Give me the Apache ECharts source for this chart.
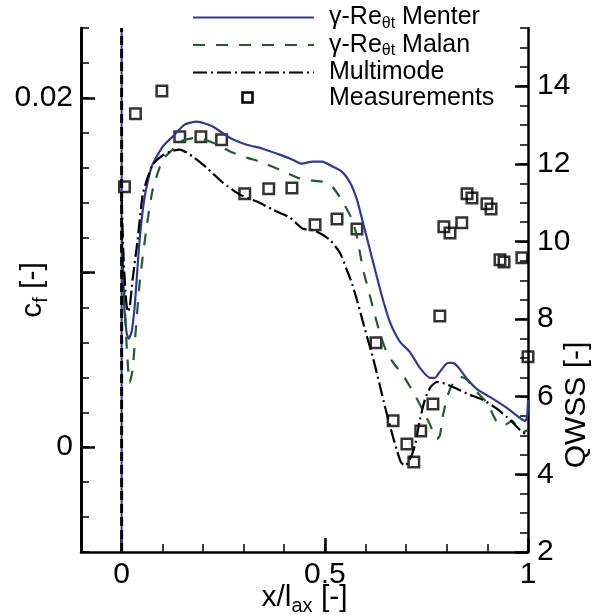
<!DOCTYPE html>
<html><head><meta charset="utf-8">
<script src="https://cdn.jsdelivr.net/npm/echarts@6/dist/echarts.min.js"></script>
<style>html,body{margin:0;padding:0;background:#fff}#c{width:605px;height:615px}</style>
</head><body><div id="c"></div><script>
const F = "'Liberation Sans', Arial, Helvetica, sans-serif";

// tick labels
const xTickLabels = [0, 0.5, 1];
const cfTickLabels = [0, 0.02];
const cfMajorTicks = [0, 0.01, 0.02];
const qwssTickLabels = [2, 4, 6, 8, 10, 12, 14];

// gamma-Re_theta_t Menter (cf)
const menterX = [0, 0.005, 0.0074, 0.0123, 0.0172, 0.0246, 0.032, 0.0443, 0.0567, 0.0739, 0.101, 0.1256, 0.155, 0.185, 0.224, 0.266, 0.308, 0.347, 0.389, 0.421, 0.443, 0.470, 0.493, 0.520, 0.542, 0.562, 0.579, 0.594, 0.611, 0.628, 0.643, 0.660, 0.685, 0.709, 0.734, 0.759, 0.771, 0.783, 0.803, 0.815, 0.830, 0.850, 0.877, 0.906, 0.948, 0.980, 0.993, 0.998, 1.0];
const menterCf = [0.01245, 0.00901, 0.00770, 0.00655, 0.00621, 0.00661, 0.00804, 0.01188, 0.01434, 0.01606, 0.01721, 0.01778, 0.01847, 0.01864, 0.01836, 0.01772, 0.01732, 0.01709, 0.01675, 0.01646, 0.01623, 0.01635, 0.01635, 0.01606, 0.01578, 0.01515, 0.01417, 0.01285, 0.01131, 0.00976, 0.00844, 0.00718, 0.00603, 0.00546, 0.00454, 0.00397, 0.00397, 0.00432, 0.00483, 0.00483, 0.00454, 0.00391, 0.00328, 0.00288, 0.00225, 0.00168, 0.00151, 0.00179, 0.00271];

// gamma-Re_theta_t Malan (cf)
const malanX = [0, 0.0074, 0.0123, 0.0197, 0.027, 0.032, 0.0443, 0.0616, 0.0764, 0.101, 0.1256, 0.143, 0.185, 0.224, 0.249, 0.273, 0.308, 0.347, 0.389, 0.421, 0.446, 0.470, 0.495, 0.520, 0.544, 0.567, 0.579, 0.594, 0.618, 0.635, 0.653, 0.672, 0.692, 0.717, 0.741, 0.759, 0.776, 0.783, 0.791, 0.803, 0.815, 0.833, 0.850, 0.874, 0.899, 0.914, 0.926, 0.943, 0.961, 0.975, 0.988, 1.0];
const malanCf = [0.01159, 0.00844, 0.00586, 0.00370, 0.00443, 0.00586, 0.00942, 0.01262, 0.01474, 0.01646, 0.01704, 0.01750, 0.01772, 0.01744, 0.01715, 0.01687, 0.01658, 0.01629, 0.01589, 0.01555, 0.01532, 0.01526, 0.01520, 0.01486, 0.01406, 0.01303, 0.01205, 0.01020, 0.00804, 0.00655, 0.00540, 0.00472, 0.00414, 0.00317, 0.00214, 0.00128, 0.00048, 0.00065, 0.00185, 0.00300, 0.00363, 0.00403, 0.00386, 0.00317, 0.00254, 0.00185, 0.00134, 0.00128, 0.00151, 0.00111, 0.00088, 0.00099];

// Multimode (cf)
const multiX = [0, 0.005, 0.0099, 0.0148, 0.0197, 0.027, 0.0394, 0.0517, 0.064, 0.0764, 0.0936, 0.118, 0.143, 0.175, 0.209, 0.249, 0.291, 0.333, 0.372, 0.414, 0.446, 0.475, 0.512, 0.537, 0.554, 0.567, 0.581, 0.599, 0.618, 0.635, 0.650, 0.665, 0.677, 0.687, 0.697, 0.709, 0.722, 0.734, 0.746, 0.759, 0.776, 0.796, 0.825, 0.857, 0.889, 0.924, 0.956, 0.980, 1.0];
const multiCf = [0.01417, 0.01073, 0.00873, 0.00775, 0.00798, 0.00959, 0.01188, 0.01446, 0.01543, 0.01618, 0.01658, 0.01692, 0.01704, 0.01664, 0.01601, 0.01515, 0.01446, 0.01406, 0.01360, 0.01314, 0.01251, 0.01240, 0.01188, 0.01113, 0.01016, 0.00936, 0.00827, 0.00672, 0.00517, 0.00357, 0.00214, 0.00082, -0.00015, -0.00084, -0.00107, -0.00073, 0.00013, 0.00156, 0.00271, 0.00340, 0.00374, 0.00363, 0.00334, 0.00300, 0.00271, 0.00219, 0.00156, 0.00099, 0.00065];

// Measurements (QWSS)
const measX = [0.007, 0.034, 0.099, 0.143, 0.195, 0.246, 0.303, 0.362, 0.419, 0.476, 0.530, 0.579, 0.626, 0.668, 0.702, 0.719, 0.736, 0.766, 0.783, 0.793, 0.808, 0.837, 0.850, 0.862, 0.899, 0.909, 0.931, 0.941, 0.985, 1.0];
const measQ = [11.41, 13.29, 13.88, 12.70, 12.70, 12.62, 11.23, 11.36, 11.38, 10.43, 10.58, 10.32, 7.39, 5.38, 4.78, 4.32, 5.12, 5.81, 8.08, 10.38, 10.22, 10.48, 11.23, 11.12, 10.97, 10.84, 9.53, 9.47, 9.58, 7.03];

// leading edge vertical trace
const edgeX = [0, 0];
const edgeCf = [-0.006, 0.024];

const pairs = (xs, ys) => xs.map((x, i) => [x, ys[i]]);

const BLUE = '#2E3A9A', GREEN = '#1F5E2C', BLACK = '#000';
const legendNames = {
  'Menter': '{a|γ-Re}{s|θt}{a| Menter}',
  'Malan': '{a|γ-Re}{s|θt}{a| Malan}',
  'Multimode': '{a|Multimode}',
  'Measurements': '{a|Measurements}'
};
const hideSym = {opacity: 0, color: 'rgba(0,0,0,0)', borderWidth: 0};

const chart = echarts.init(document.getElementById('c'), null, {renderer: 'canvas'});
const axisFont = {fontSize: 30, color: '#000', fontFamily: F};
chart.setOption({
  animation: false,
  backgroundColor: '#fff',
  grid: {left: 81, right: 77, top: 28, bottom: 63, containLabel: false, outerBoundsMode: 'none'},
  legend: {
    orient: 'vertical', left: 187, top: 0, itemWidth: 121, itemHeight: 11, itemGap: 1,
    data: [
      {name: 'Menter', itemStyle: hideSym},
      {name: 'Malan', itemStyle: hideSym},
      {name: 'Multimode', itemStyle: hideSym},
      {name: 'Measurements', icon: 'none'}],
    formatter: n => legendNames[n],
    textStyle: {
      fontFamily: F, color: '#000', padding: [0, 0, 0, 10],
      rich: {
        a: {fontSize: 25, fontFamily: F, color: '#000', lineHeight: 27},
        s: {fontSize: 16, fontFamily: F, color: '#000', padding: [12, 0, 0, 0]}
      }
    }
  },
  xAxis: [{
    type: 'value', min: -0.1, max: 1, interval: 0.1, position: 'bottom',
    axisLine: {onZero: false, lineStyle: {color: '#000', width: 2.5}},
    axisTick: {inside: true, length: 8, lineStyle: {color: '#000', width: 1.5}},
    axisLabel: {customValues: xTickLabels, margin: 8, ...axisFont},
    splitLine: {show: false},
    name: '{a|x/l}{s|ax}{a| [-]}', nameLocation: 'middle', nameGap: 28, nameMoveOverlap: false,
    nameTextStyle: {rich: {
      a: {fontSize: 30, fontFamily: F, color: '#000'},
      s: {fontSize: 20, fontFamily: F, color: '#000', padding: [16, 0, 0, 0]}
    }}
  }, {
    type: 'value', min: -0.1, max: 1, interval: 0.1, position: 'bottom', offset: 0,
    axisLine: {show: false, onZero: false},
    axisTick: {inside: true, length: 14, customValues: xTickLabels, lineStyle: {color: '#000', width: 2.5}},
    axisLabel: {show: false}, splitLine: {show: false}
  }],
  yAxis: [{
    type: 'value', min: -0.006, max: 0.024, interval: 0.002, position: 'left',
    axisLine: {show: true, onZero: false, lineStyle: {color: '#000', width: 3}},
    axisTick: {inside: true, length: 8, lineStyle: {color: '#000', width: 1.5}},
    axisLabel: {customValues: cfTickLabels, margin: 8, ...axisFont},
    splitLine: {show: false},
    name: '{a|c}{s|f}{a| [-]}', nameLocation: 'middle', nameRotate: 90, nameGap: 30, nameMoveOverlap: false,
    nameTextStyle: {rich: {
      a: {fontSize: 30, fontFamily: F, color: '#000'},
      s: {fontSize: 20, fontFamily: F, color: '#000', padding: [16, 0, 0, 0]}
    }}
  }, {
    type: 'value', min: -0.006, max: 0.024, interval: 0.002, position: 'left', offset: 0,
    axisLine: {show: false, onZero: false},
    axisTick: {inside: true, length: 14, customValues: cfMajorTicks, lineStyle: {color: '#000', width: 2.5}},
    axisLabel: {show: false}, splitLine: {show: false}
  }, {
    type: 'value', min: 2, max: 15.5, interval: 0.5, position: 'right', offset: 0,
    axisLine: {show: true, onZero: false, lineStyle: {color: '#000', width: 2.5}},
    axisTick: {inside: true, length: 8, lineStyle: {color: '#000', width: 1.5}},
    axisLabel: {customValues: qwssTickLabels, margin: 9, ...axisFont},
    splitLine: {show: false}
  }, {
    type: 'value', min: 2, max: 15.5, interval: 0.5, position: 'right', offset: 0,
    axisLine: {show: false, onZero: false},
    axisTick: {inside: true, length: 13, customValues: qwssTickLabels, lineStyle: {color: '#000', width: 2.5}},
    axisLabel: {show: false}, splitLine: {show: false}
  }],
  graphic: [{
    type: 'text', x: 577, y: 405, rotation: Math.PI / 2,
    style: {text: 'QWSS [-]', fontSize: 30, fontFamily: F, fill: '#000', textAlign: 'center', textVerticalAlign: 'middle'}
  }, {
    type: 'rect', shape: {x: 242.5, y: 92.5, width: 10, height: 10},
    style: {fill: 'rgba(0,0,0,0)', stroke: '#000', lineWidth: 2.5}
  }],
  series: [
    {name: 'edgeBlue', type: 'line', xAxisIndex: 0, yAxisIndex: 0, data: pairs(edgeX, edgeCf), symbol: 'none',
      lineStyle: {color: BLUE, width: 2}, silent: true},
    {name: 'Menter', type: 'line', xAxisIndex: 0, yAxisIndex: 0, data: pairs(menterX, menterCf), symbol: 'none', smooth: 0.2,
      color: BLUE, lineStyle: {color: BLUE, width: 2.2}},
    {name: 'Malan', type: 'line', xAxisIndex: 0, yAxisIndex: 0, data: pairs(malanX, malanCf), symbol: 'none', smooth: 0.2,
      color: GREEN, lineStyle: {color: GREEN, width: 2.2, type: [12, 11]}},
    {name: 'Multimode', type: 'line', xAxisIndex: 0, yAxisIndex: 0, data: pairs(multiX, multiCf), symbol: 'none', smooth: 0.2,
      color: BLACK, lineStyle: {color: BLACK, width: 2.2, type: [14, 4, 2, 4]}},
    {name: 'edgeBlack', type: 'line', xAxisIndex: 0, yAxisIndex: 0, data: pairs(edgeX, edgeCf), symbol: 'none',
      lineStyle: {color: BLACK, width: 3, type: [9, 4]}, silent: true},
    {name: 'Measurements', type: 'scatter', xAxisIndex: 0, yAxisIndex: 2, data: pairs(measX, measQ),
      symbol: 'rect', symbolSize: 10.5, clip: false,
      itemStyle: {color: 'rgba(0,0,0,0)', borderColor: '#000', borderWidth: 2.5}}
  ]
});
</script></body></html>
